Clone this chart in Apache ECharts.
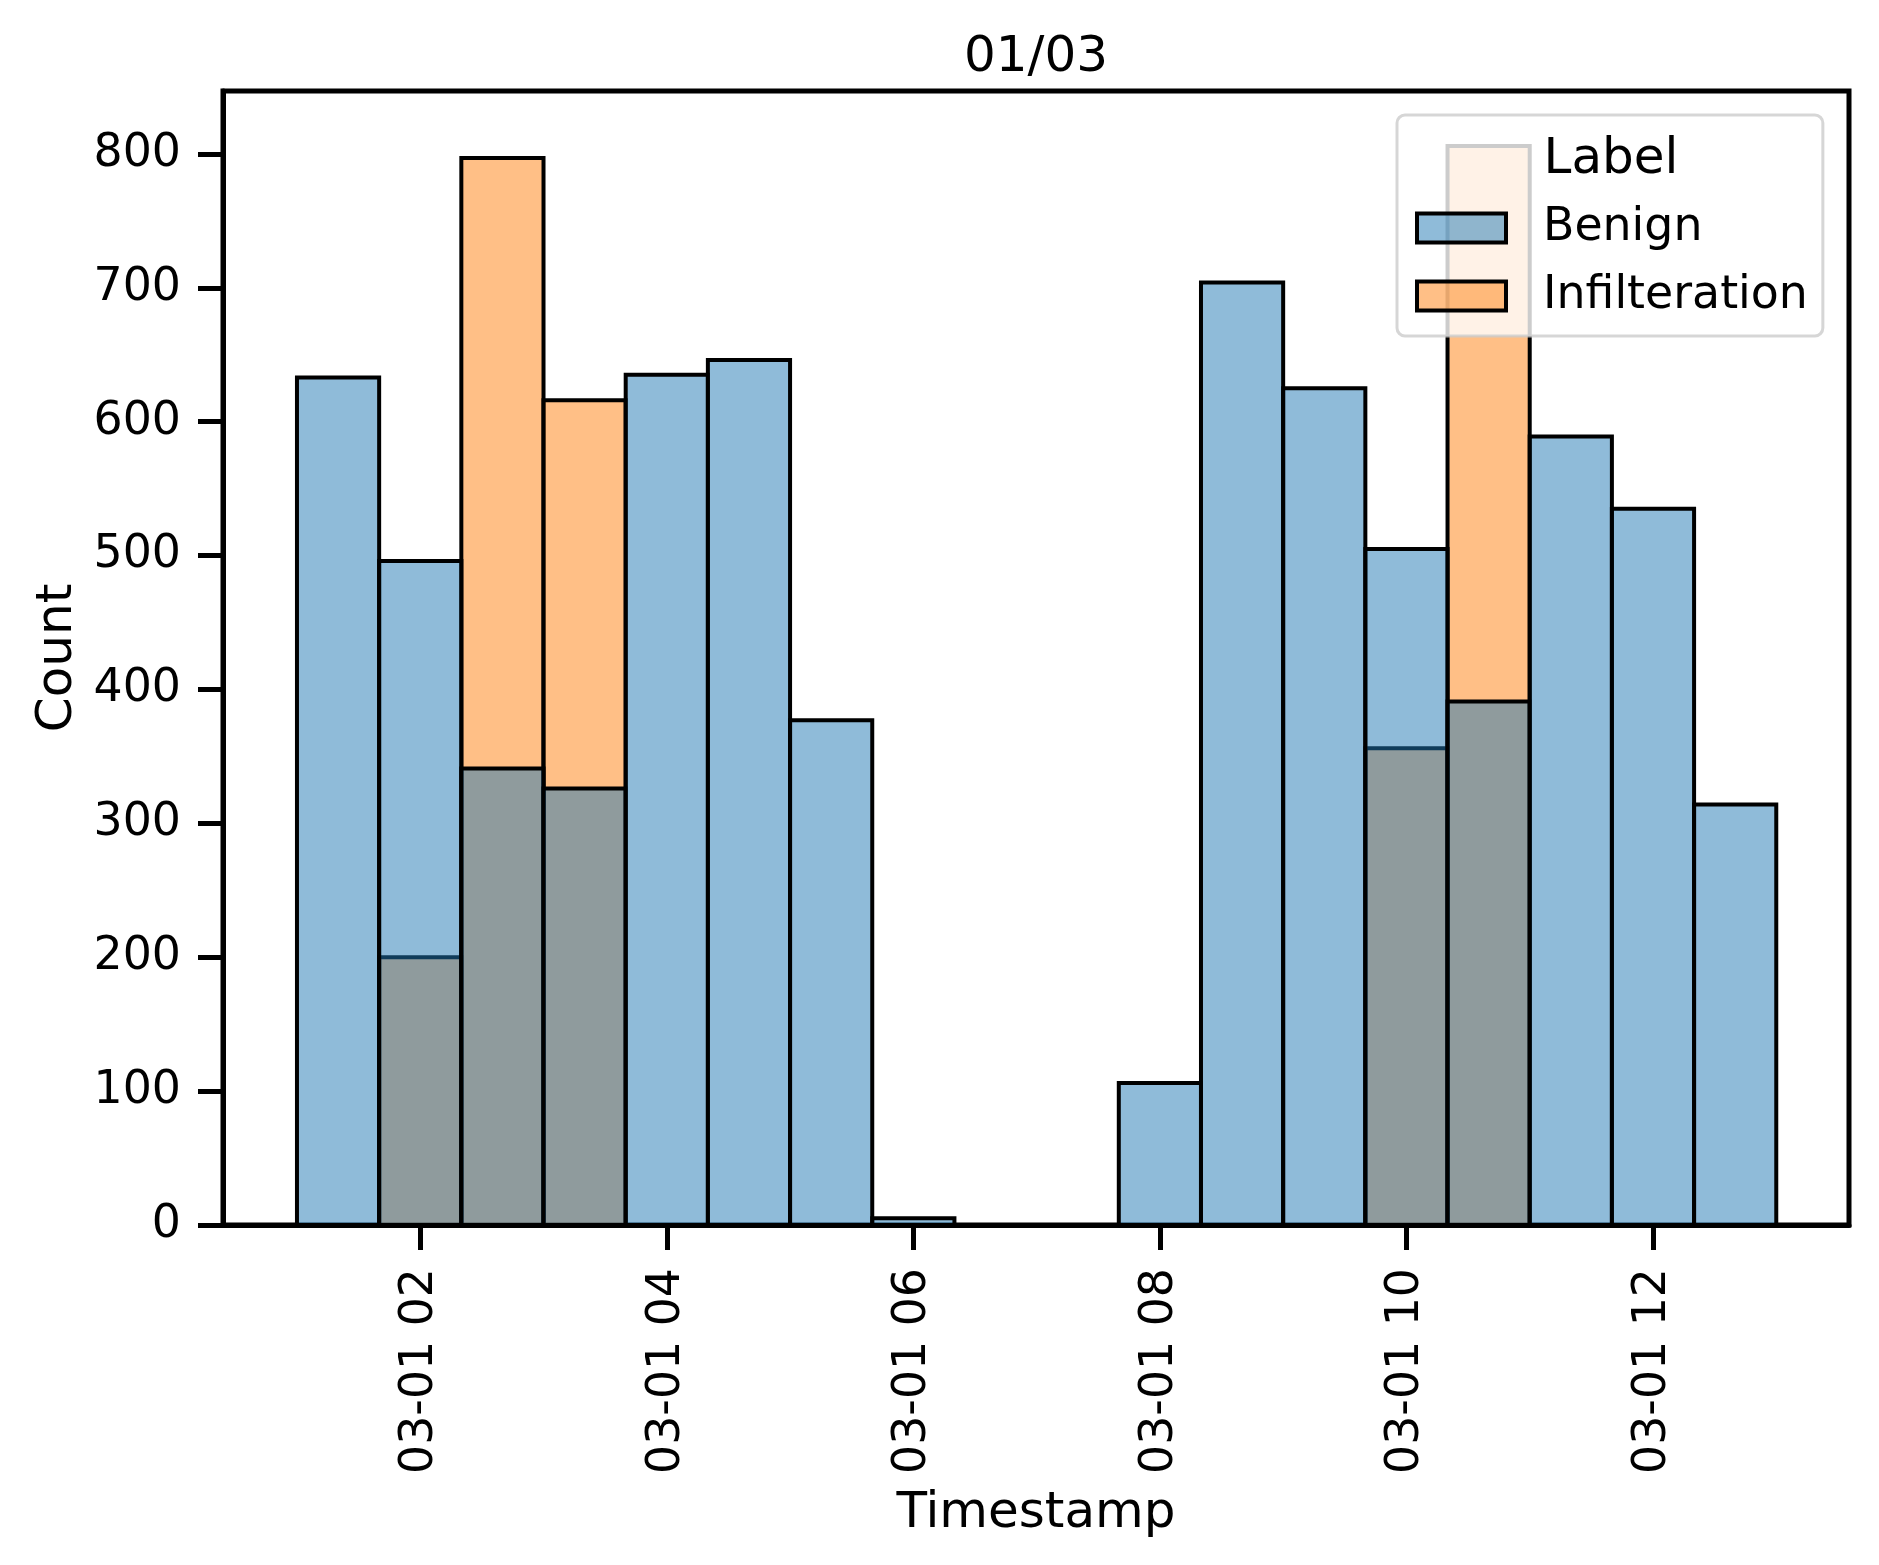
<!DOCTYPE html>
<html lang="en">
<head>
<meta charset="UTF-8"/>
<title>01/03</title>
<script src="https://cdn.jsdelivr.net/npm/echarts@6/dist/echarts.min.js"></script>
<style>html, body { margin: 0; padding: 0; background: #fff; }</style>
</head>
<body>

<div id="main" style="width: 1879px; height: 1565px;"></div>

<script type="text/javascript">
    // 40 minute bins on 03-01
    var binStarts = ['01:00', '01:40', '02:20', '03:00', '03:40', '04:20', '05:00', '05:40', '06:20',
                     '07:00', '07:40', '08:20', '09:00', '09:40', '10:20', '11:00', '11:40', '12:20'];
    var binEnd = '13:00';
    var benign = [633, 496, 341, 326, 635, 646, 377, 5, 0, 0, 106, 704, 625, 505, 391, 589, 535, 314];
    var infilteration = [0, 200, 797, 616, 0, 0, 0, 0, 0, 0, 0, 0, 0, 356, 806, 0, 0, 0];
    var xTicks = [2, 4, 6, 8, 10, 12];
    var yTicks = [0, 100, 200, 300, 400, 500, 600, 700, 800];

    var FONT = 'DejaVu Sans';

    function toHour(s) {
        var p = s.split(':');
        return +p[0] + (+p[1]) / 60;
    }

    function binData(counts) {
        var out = [];
        for (var i = 0; i < binStarts.length; i++) {
            var end = i + 1 < binStarts.length ? binStarts[i + 1] : binEnd;
            out.push([toHour(binStarts[i]), toHour(end), counts[i]]);
        }
        return out;
    }

    function renderBar(fill) {
        return function (params, api) {
            var p0 = api.coord([api.value(0), api.value(2)]);
            var p1 = api.coord([api.value(1), 0]);
            return {
                type: 'rect',
                shape: {x: p0[0], y: p0[1], width: p1[0] - p0[0], height: p1[1] - p0[1]},
                style: {fill: fill, stroke: '#000', lineWidth: 4}
            };
        };
    }

    var blue = 'rgba(31,119,180,0.5)';
    var orange = 'rgba(255,127,14,0.5)';

    var myChart = echarts.init(document.getElementById('main'));

    var option = {
        animation: false,
        backgroundColor: '#fff',
        textStyle: {fontFamily: FONT, color: '#000'},
        title: {
            text: '01/03',
            left: 964,
            top: 33,
            padding: 0,
            textStyle: {fontFamily: FONT, fontSize: 50, fontWeight: 'normal', color: '#000'}
        },
        grid: {
            left: 223, top: 91, width: 1626, height: 1134,
            show: true, borderColor: '#000', borderWidth: 5,
            containLabel: false
        },
        legend: {
            orient: 'vertical',
            left: 1397,
            top: 115,
            padding: [90, 15, 17, 18],
            itemGap: 22,
            itemWidth: 89,
            itemHeight: 29,
            icon: 'rect',
            backgroundColor: 'rgba(255,255,255,0.8)',
            borderColor: 'rgba(204,204,204,0.8)',
            borderWidth: 3,
            borderRadius: 8,
            textStyle: {fontFamily: FONT, fontSize: 45.8, lineHeight: 46, color: '#000', padding: [0, 0, 0, 32]},
            data: [
                {name: 'Benign', itemStyle: {color: blue, borderColor: '#000', borderWidth: 4}},
                {name: 'Infilteration', itemStyle: {color: orange, borderColor: '#000', borderWidth: 4}}
            ]
        },
        graphic: [{
            type: 'text',
            z: 100,
            style: {
                x: 1611, y: 160, text: 'Label',
                fill: '#000', font: '50px "DejaVu Sans"',
                textAlign: 'center', textVerticalAlign: 'middle'
            }
        }],
        xAxis: {
            type: 'value',
            min: 0.4,
            max: 13.59,
            name: 'Timestamp',
            nameLocation: 'middle',
            nameGap: 264,
            nameTextStyle: {fontFamily: FONT, fontSize: 50, color: '#000'},
            axisLine: {show: true, onZero: false, lineStyle: {color: '#000', width: 5}},
            axisTick: {show: true, customValues: xTicks, length: 25, lineStyle: {color: '#000', width: 5}},
            axisLabel: {
                customValues: xTicks,
                rotate: 90,
                margin: 43,
                fontFamily: FONT, fontSize: 45.8, color: '#000',
                formatter: function (v) {
                    return '03-01 ' + (v < 10 ? '0' + v : '' + v);
                }
            },
            splitLine: {show: false}
        },
        yAxis: {
            type: 'value',
            min: 0,
            max: 847,
            name: 'Count',
            nameLocation: 'middle',
            nameRotate: 90,
            nameGap: 140,
            nameTextStyle: {fontFamily: FONT, fontSize: 50, color: '#000'},
            axisLine: {show: true, lineStyle: {color: '#000', width: 5}},
            axisTick: {show: true, customValues: yTicks, length: 25, lineStyle: {color: '#000', width: 5}},
            axisLabel: {customValues: yTicks, margin: 42, fontFamily: FONT, fontSize: 45.8, color: '#000'},
            splitLine: {show: false}
        },
        series: [
            {
                name: 'Infilteration',
                type: 'custom',
                renderItem: renderBar(orange),
                itemStyle: {color: orange},
                encode: {x: [0, 1], y: 2},
                data: binData(infilteration)
            },
            {
                name: 'Benign',
                type: 'custom',
                renderItem: renderBar(blue),
                itemStyle: {color: blue},
                encode: {x: [0, 1], y: 2},
                data: binData(benign)
            }
        ]
    };

    myChart.setOption(option);
</script>
</body>
</html>
